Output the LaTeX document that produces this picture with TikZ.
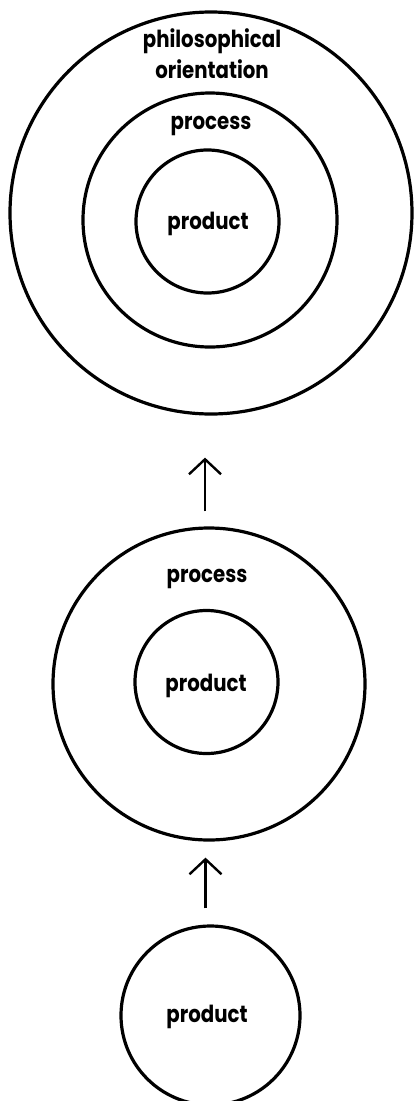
\documentclass[tikz,border=0pt]{standalone}
\usepackage{fontspec}
\setmainfont{Poppins}[FakeStretch=0.84]
\usetikzlibrary{arrows.meta}
\begin{document}
\begin{tikzpicture}[x=1pt,y=-1pt,
  ring/.style={draw, circle, line width=3.2pt, inner sep=0pt},
  lbl/.style={font=\fontsize{23.5}{31}\selectfont\bfseries, inner sep=0pt, align=center},
  arr/.style={line width=2.4pt, -{Straight Barb[length=15pt,width=32pt,line width=2.4pt]}}]
\useasboundingbox (0,0) rectangle (413,1101);
% top group
\node[ring, minimum size=402pt] (big) at (211,213) {};
\node[ring, minimum size=254pt] (tproc) at (210,220) {};
\node[ring, minimum size=143pt] (tprod) at (207.5,221.5) {};
\node[lbl, anchor=center] (tphil) at (212,54) {philosophical\\orientation};
\node[lbl, anchor=base] (tproct) at (211,129) {process};
\node[lbl, anchor=base] (tprodt) at (208,229) {product};
% middle group
\node[ring, minimum size=312pt] (mproc) at (209,684) {};
\node[ring, minimum size=143pt] (mprod) at (206.5,682) {};
\node[lbl, anchor=base] (mproct) at (207,582) {process};
\node[lbl, anchor=base] (mprodt) at (206,691) {product};
% bottom
\node[ring, minimum size=179pt] (bprod) at (210.5,1015.5) {};
\node[lbl, anchor=base] (bprodt) at (207,1022) {product};
% arrows
\draw[arr, shorten <=15pt, shorten >=42pt] ([xshift=-4pt]mproc.north) -- ([xshift=-4pt]mproc.north |- big.south);
\draw[arr, shorten <=16pt, shorten >=16pt] ([xshift=-5pt]bprod.north) -- ([xshift=-5pt]bprod.north |- mproc.south);
\end{tikzpicture}
\end{document}
